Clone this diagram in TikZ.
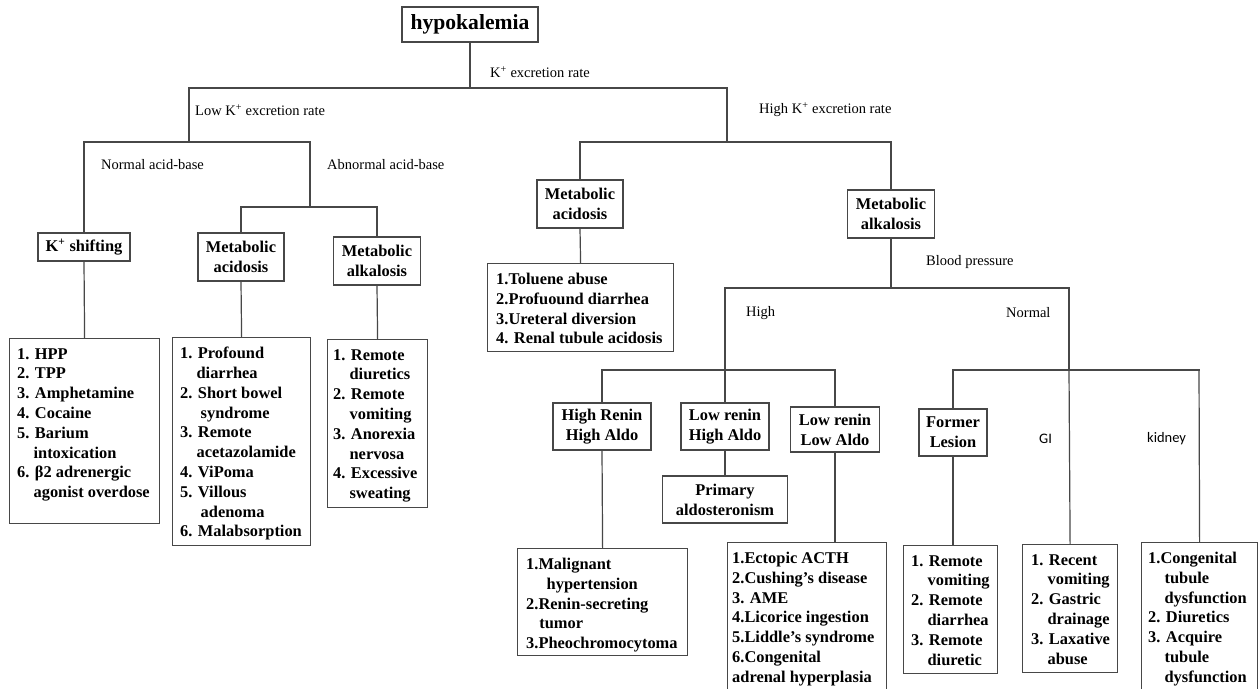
\documentclass[tikz,border=0pt]{standalone}
\usepackage{fontspec}
\setmainfont{Liberation Serif}
\newfontfamily\calib{Carlito}
\newcommand\bx{\fontsize{16.4pt}{19.8pt}\selectfont\bfseries}
\newcommand\lb{\fontsize{14.5pt}{17pt}\selectfont}
\newcommand\ind{\hspace*{1em}}
\begin{document}
\begin{tikzpicture}[x=1pt, y=-1pt,
  conn/.style={draw=black!72, line width=1.2pt, line cap=rect},
  box/.style={draw=black!72, line width=1.2pt, inner sep=0pt, align=center, font=\bx, text=black},
  lbox/.style={draw=black!72, line width=1.2pt, inner sep=0pt, anchor=north west},
  ltxt/.style={inner sep=0pt, align=left, font=\bx, anchor=north west},
  elab/.style={font=\lb, anchor=west, inner sep=0pt},
  slab/.style={font=\calib\lb, anchor=west, inner sep=0pt}]
\path[use as bounding box] (0,0) rectangle (1260,688);
\fill[white] (0,0) rectangle (1260,688);
\clip (0,0) rectangle (1260,688);

% ---- labelled boxes
\node[box, minimum width=136pt, minimum height=35pt, font=\fontsize{21.6pt}{24pt}\selectfont\bfseries] (hypo) at (470,24.5) {hypokalemia};
\node[box, minimum width=92pt, minimum height=28pt] (ksh) at (84,247) {K\textsuperscript{+} shifting};
\node[box, minimum width=86pt, minimum height=48pt] (macL) at (241,257) {Metabolic\\acidosis};
\node[box, minimum width=87pt, minimum height=48pt] (malL) at (377,261) {Metabolic\\alkalosis};
\node[box, minimum width=86pt, minimum height=48pt] (macR) at (580,204) {Metabolic\\acidosis};
\node[box, minimum width=87pt, minimum height=48pt] (malR) at (891,214) {Metabolic\\alkalosis};
\node[box, minimum width=98pt, minimum height=47pt] (hrb) at (602,426.5) {High Renin\\High Aldo};
\node[box, minimum width=88pt, minimum height=47pt] (lhb) at (725,426.5) {Low renin\\High Aldo};
\node[box, minimum width=89pt, minimum height=45pt] (llb) at (835,429.5) {Low renin\\Low Aldo};
\node[box, minimum width=125pt, minimum height=47pt] (pa) at (725,499.5) {Primary\\aldosteronism};
\node[box, minimum width=68pt, minimum height=47pt] (flb) at (953,432.5) {Former\\Lesion};

% ---- list boxes
\node[lbox, minimum width=150pt, minimum height=185pt] (l1) at (9,338) {};
\node[ltxt] (l1t) at ([shift={(8pt,-10pt)}]l1.north west) {1. HPP\\2. TPP\\3. Amphetamine\\4. Cocaine\\5. Barium\\\ind intoxication\\6. β2 adrenergic\\\ind agonist overdose};

\node[lbox, minimum width=138pt, minimum height=208pt] (l2) at (172,337) {};
\node[ltxt] (l2t) at ([shift={(8pt,-10pt)}]l2.north west) {1. Profound\\\ind diarrhea\\2. Short bowel\\\ind\ syndrome\\3. Remote\\\ind acetazolamide\\4. ViPoma\\5. Villous\\\ind\ adenoma\\6. Malabsorption};

\node[lbox, minimum width=100pt, minimum height=168pt] (l3) at (327,339) {};
\node[ltxt] (l3t) at ([shift={(6pt,-10pt)}]l3.north west) {1. Remote\\\ind diuretics\\2. Remote\\\ind vomiting\\3. Anorexia\\\ind nervosa\\4. Excessive\\\ind sweating};

\node[lbox, minimum width=186pt, minimum height=88pt] (tol) at (487,263) {};
\node[ltxt] (tolt) at ([shift={(9pt,-10pt)}]tol.north west) {1.Toluene abuse\\2.Profuound diarrhea\\3.Ureteral diversion\\4. Renal tubule acidosis};

\node[lbox, minimum width=170pt, minimum height=107pt] (hr) at (517,548) {};
\node[ltxt] (hrt) at ([shift={(9pt,-10pt)}]hr.north west) {1.Malignant\\\hspace*{1.25em}hypertension\\2.Renin-secreting\\\hspace*{0.8em}tumor\\3.Pheochromocytoma};

\node[lbox, minimum width=159pt, minimum height=160pt] (la) at (727,542) {};
\node[ltxt] (lat) at ([shift={(5pt,-10pt)}]la.north west) {1.Ectopic ACTH\\2.Cushing’s disease\\3. AME\\4.Licorice ingestion\\5.Liddle’s syndrome\\6.Congenital\\adrenal hyperplasia};

\node[lbox, minimum width=94pt, minimum height=128pt] (fl) at (903,545) {};
\node[ltxt] (flt) at ([shift={(8pt,-10pt)}]fl.north west) {1. Remote\\\ind vomiting\\2. Remote\\\ind diarrhea\\3. Remote\\\ind diuretic};

\node[lbox, minimum width=95pt, minimum height=128pt] (gi) at (1022,544) {};
\node[ltxt] (git) at ([shift={(9pt,-10pt)}]gi.north west) {1. Recent\\\ind vomiting\\2. Gastric\\\ind drainage\\3. Laxative\\\ind abuse};

\node[lbox, minimum width=116pt, minimum height=160pt] (kd) at (1141,542) {};
\node[ltxt] (kdt) at ([shift={(7pt,-10pt)}]kd.north west) {1.Congenital\\\ind tubule\\\ind dysfunction\\2. Diuretics\\3. Acquire\\\ind tubule\\\ind dysfunction};

% ---- junction coordinates
\coordinate (t0) at (470,88);
\coordinate (tL) at (189,88);
\coordinate (tR) at (727,88);
\coordinate (aL) at (189,142);
\coordinate (a1) at (84,142);
\coordinate (a2) at (310,142);
\coordinate (b0) at (310,207);
\coordinate (b1) at (241,207);
\coordinate (b2) at (377,207);
\coordinate (c0) at (727,142);
\coordinate (c1) at (580,142);
\coordinate (c2) at (891,142);
\coordinate (d0) at (891,288);
\coordinate (d1) at (725,288);
\coordinate (d2) at (1069,288);
\coordinate (e1) at (725,370);
\coordinate (e2) at (1069,370);
\coordinate (f1) at (602,370);
\coordinate (f3) at (835,370);
\coordinate (g1) at (953,370);
\coordinate (g3) at (1199,370);

% ---- connectors
\draw[conn] (hypo.south) -- (t0);
\draw[conn] (tL) -- (tR);
\draw[conn] (tL) -- (aL);
\draw[conn] (a1) -- (a2);
\draw[conn] (a1) -- (ksh.north);
\draw[conn] (a2) -- (b0);
\draw[conn] (b1) -- (b2);
\draw[conn] (b1) -- (macL.north);
\draw[conn] (b2) -- (malL.north);
\draw[conn] (ksh.south) -- (l1.north);
\draw[conn] (macL.south) -- (l2.north);
\draw[conn] (malL.south) -- (l3.north);

\draw[conn] (tR) -- (c0);
\draw[conn] (c1) -- (c2);
\draw[conn] (c1) -- (macR.north);
\draw[conn] (c2) -- (malR.north);
\draw[conn] (macR.south) -- (tol.north);
\draw[conn] (malR.south) -- (d0);
\draw[conn] (d1) -- (d2);
\draw[conn] (d1) -- (e1);
\draw[conn] (d2) -- (e2);
\draw[conn] (f1) -- (f3);
\draw[conn] (f1) -- (hrb.north);
\draw[conn] (e1) -- (lhb.north);
\draw[conn] (f3) -- (llb.north);
\draw[conn] (hrb.south) -- (hr.north);
\draw[conn] (lhb.south) -- (pa.north);
\draw[conn] (llb.south) -- (llb.south |- la.north);
\draw[conn] (g1) -- (g3);
\draw[conn] (g1) -- (flb.north);
\draw[conn] (flb.south) -- (flb.south |- fl.north);
\draw[conn] (e2) -- (gi.north);
\draw[conn] (g3) -- (kd.north);

% ---- edge labels
\node[elab] (lk) at (490,72) {K\textsuperscript{+} excretion rate};
\node[elab] (llow) at (195,110) {Low K\textsuperscript{+} excretion rate};
\node[elab] (lhigh) at (759,110) {High K\textsuperscript{+} excretion rate};
\node[elab] (lnab) at (101,165) {Normal acid-base};
\node[elab] (labn) at (327,165) {Abnormal acid-base};
\node[elab] (lbp) at (926,262) {Blood pressure};
\node[elab] (lhi) at (746,313) {High};
\node[elab] (lno) at (1006,313) {Normal};
\node[slab] (lgi) at (1039,439) {GI};
\node[slab] (lkid) at (1147,439) {kidney};
\end{tikzpicture}
\end{document}
